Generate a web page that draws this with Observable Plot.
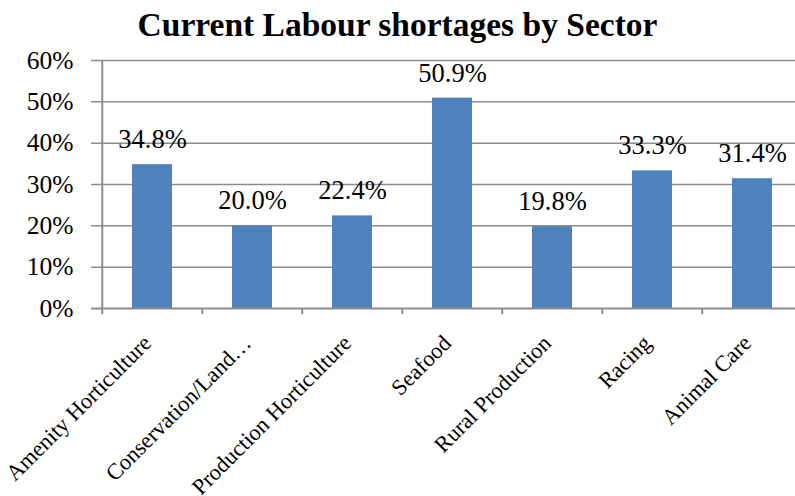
<!DOCTYPE html>
<html>
<head>
<meta charset="utf-8">
<script src="https://cdn.jsdelivr.net/npm/d3@7"></script>
<script src="https://cdn.jsdelivr.net/npm/@observablehq/plot@0.6"></script>
<style>
  html, body { margin: 0; padding: 0; background: #fff; }
  #title { width: 795px; height: 30px; padding-top: 10px; line-height: 30px; text-align: center; font-family: "Liberation Serif", serif; font-weight: bold; font-size: 33.5px; color: #000; white-space: nowrap; }
  #chart svg { display: block; font-family: "Liberation Serif", serif !important; }
  #chart svg text { font-family: "Liberation Serif", serif !important; }
</style>
</head>
<body>
<div id="title">Current Labour shortages by Sector</div>
<div id="chart"></div>
<script>
const categories = ["Amenity Horticulture", "Conservation/Land…", "Production Horticulture", "Seafood", "Rural Production", "Racing", "Animal Care"];
const values = [0.348, 0.200, 0.224, 0.509, 0.198, 0.333, 0.314];
const yTicks = [0, 0.1, 0.2, 0.3, 0.4, 0.5, 0.6];

const data = categories.map((c, i) => ({category: c, value: values[i]}));
const grid = "#8c8c8c";
const step = (803.5 - 100) / 7;

const chart = Plot.plot({
  width: 795,
  height: 456,
  marginTop: 20,
  marginLeft: 100,
  marginRight: 0,
  marginBottom: 188,
  style: {fontFamily: "Liberation Serif, serif", fontSize: "24px", color: "#000", background: "#fff"},
  x: {domain: categories, range: [100, 803.5], paddingInner: 0.6, paddingOuter: 0.3, axis: null},
  y: {domain: [0, 0.6], axis: null},
  marks: [
    Plot.ruleY(yTicks.slice(1), {stroke: grid, strokeWidth: 1.5, insetLeft: -9}),
    Plot.axisY({ticks: yTicks, tickFormat: d3.format(".0%"), tickSize: 0, tickPadding: 27, fontSize: 25.5, label: null}),
    Plot.barY(data, {x: "category", y: "value", fill: "#4F81BD"}),
    Plot.ruleY([0], {stroke: grid, strokeWidth: 2, insetLeft: -9}),
    Plot.ruleX([categories[0]], {y1: 0, y2: 0.6, dx: -step / 2, stroke: grid, strokeWidth: 2}),
    Plot.axisX({ticks: categories, tickFormat: () => "", tickSize: 6, dx: -step / 2, stroke: grid, strokeWidth: 2, label: null}),
    Plot.text(data, {x: "category", y: "value", text: d => d3.format(".1%")(d.value), dy: -25, fontSize: 26.5}),
    Plot.text(data, {x: "category", frameAnchor: "bottom", text: "category", rotate: -45, textAnchor: "end", dx: 0, dy: 36, fontSize: 22.5})
  ]
});
document.getElementById("chart").append(chart);
</script>
</body>
</html>
